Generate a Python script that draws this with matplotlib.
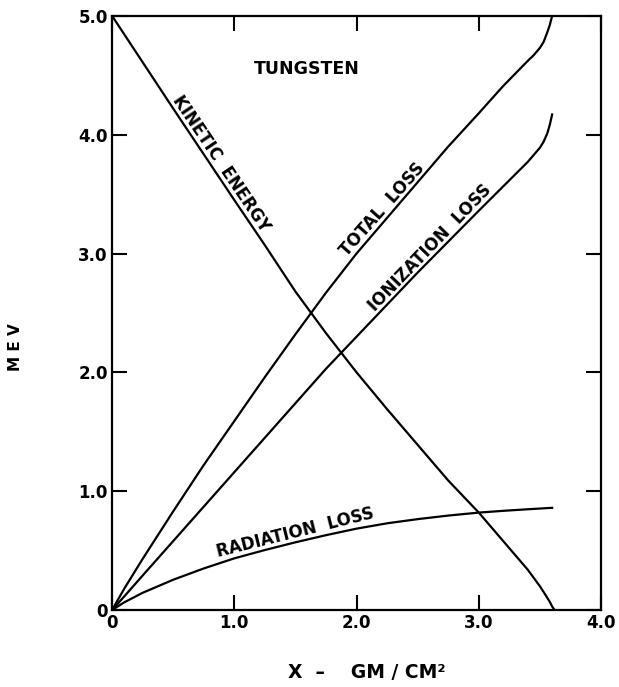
import numpy as np
import matplotlib
matplotlib.use("Agg")
import matplotlib.pyplot as plt

# values (MeV vs depth in gm/cm^2)
x_loss = [0, 0.1, 0.25, 0.5, 0.75, 1.0, 1.25, 1.5, 1.75, 2.0, 2.25, 2.5, 2.75, 3.0, 3.2, 3.4, 3.45, 3.5, 3.53, 3.56, 3.58, 3.6]
total_loss = [0, 0.18, 0.43, 0.83, 1.22, 1.59, 1.96, 2.32, 2.67, 3.0, 3.3, 3.6, 3.9, 4.18, 4.41, 4.62, 4.67, 4.73, 4.78, 4.86, 4.92, 5.0]
ionization_loss = [0, 0.115, 0.29, 0.58, 0.87, 1.16, 1.45, 1.74, 2.03, 2.30, 2.57, 2.84, 3.10, 3.36, 3.565, 3.77, 3.83, 3.89, 3.94, 4.01, 4.08, 4.17]
radiation_loss = [0, 0.065, 0.145, 0.255, 0.35, 0.435, 0.505, 0.57, 0.63, 0.685, 0.73, 0.765, 0.795, 0.82, 0.835, 0.848, 0.851, 0.854, 0.856, 0.858, 0.859, 0.86]

x_ke = [0, 0.5, 1.0, 1.25, 1.5, 1.75, 2.0, 2.25, 2.5, 2.75, 3.0, 3.2, 3.4, 3.5, 3.55, 3.58, 3.6, 3.62]
kinetic_energy = [5.0, 4.22, 3.45, 3.07, 2.68, 2.33, 2.0, 1.69, 1.39, 1.09, 0.82, 0.58, 0.34, 0.2, 0.12, 0.07, 0.03, 0.0]

x_ticks = [0, 1, 2, 3, 4]
x_ticklabels = ["0", "1.0", "2.0", "3.0", "4.0"]
y_ticks = [0, 1, 2, 3, 4, 5]
y_ticklabels = ["0", "1.0", "2.0", "3.0", "4.0", "5.0"]

plt.rcParams['font.family'] = ['DejaVu Sans']

fig = plt.figure(figsize=(6.19, 6.87), dpi=100)
ax = fig.add_axes([0.181, 0.112, 0.79, 0.865])

lw = 1.6
ax.plot(x_loss, total_loss, color='black', lw=lw)
ax.plot(x_loss, ionization_loss, color='black', lw=lw)
ax.plot(x_loss, radiation_loss, color='black', lw=lw)
ax.plot(x_ke, kinetic_energy, color='black', lw=lw)

ax.set_xlim(0, 4)
ax.set_ylim(0, 5)

ax.set_xticks(x_ticks)
ax.set_xticklabels(x_ticklabels)
ax.set_yticks(y_ticks)
ax.set_yticklabels(y_ticklabels)
ax.tick_params(direction='in', length=11, width=1.5, top=True, right=True,
               labelsize=12, pad=3)
for lab in ax.get_xticklabels() + ax.get_yticklabels():
    lab.set_fontweight('bold')
for s in ax.spines.values():
    s.set_linewidth(1.6)

# curve labels sit on their curves (bottom edge anchored on the line)
lab_kw = dict(fontsize=12, fontweight='bold', ha='center', va='bottom',
              rotation_mode='anchor')
ax.text(0.83, np.interp(0.83, x_ke, kinetic_energy), "KINETIC  ENERGY", rotation=-56, **lab_kw)
ax.text(2.27, np.interp(2.27, x_loss, total_loss), "TOTAL  LOSS", rotation=48.5, **lab_kw)
ax.text(2.65, np.interp(2.65, x_loss, ionization_loss), "IONIZATION  LOSS", rotation=46, **lab_kw)
ax.text(1.52, np.interp(1.52, x_loss, radiation_loss), "RADIATION  LOSS", rotation=14, **lab_kw)
ax.text(1.595, 4.55, "TUNGSTEN", fontsize=12.5, fontweight='bold', ha='center', va='center')

fig.text(16 / 619, 1 - 347 / 687, "M E V", rotation=90, fontsize=11,
         fontweight='bold', ha='center', va='center')
fig.text(367 / 619, 1 - 672 / 687, "X  \u2013    GM / CM\u00b2", fontsize=13.5,
         fontweight='bold', ha='center', va='center')

fig.savefig("out.png", dpi=100)
